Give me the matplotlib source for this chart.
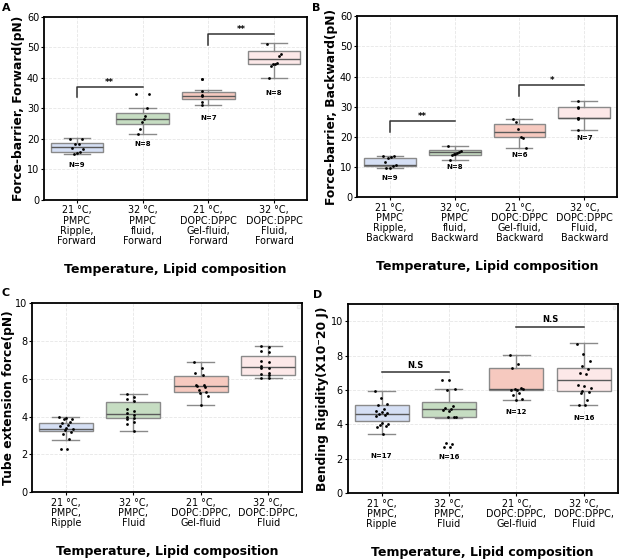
import numpy as np
import matplotlib
matplotlib.use("Agg")
import matplotlib.pyplot as plt

plt.rcParams['font.family'] = ['DejaVu Sans']

# ---------------- data ----------------
labels_ab_a = ["21 °C,\nPMPC\nRipple,\nForward", "32 °C,\nPMPC\nfluid,\nForward",
               "21 °C,\nDOPC:DPPC\nGel-fluid,\nForward", "32 °C,\nDOPC:DPPC\nFluid,\nForward"]
labels_ab_b = ["21 °C,\nPMPC\nRipple,\nBackward", "32 °C,\nPMPC\nfluid,\nBackward",
               "21 °C,\nDOPC:DPPC\nGel-fluid,\nBackward", "32 °C,\nDOPC:DPPC\nFluid,\nBackward"]
labels_cd = ["21 °C,\nPMPC,\nRipple", "32 °C,\nPMPC,\nFluid",
             "21 °C,\nDOPC:DPPC,\nGel-fluid", "32 °C,\nDOPC:DPPC,\nFluid"]

# Panel A: force barrier forward (pN)
a_points = [[20.0, 19.9, 18.4, 18.2, 17.0, 16.6, 15.6, 15.4, 14.9],
            [34.6, 34.6, 30.0, 27.6, 26.6, 25.6, 23.4, 21.6],
            [39.6, 39.6, 35.8, 34.3, 34.0, 32.0, 31.0],
            [51.2, 47.8, 47.3, 44.8, 44.5, 44.4, 43.9, 39.8]]
a_q1 = [15.8, 24.8, 33.0, 44.5]
a_med = [17.2, 26.4, 34.2, 46.3]
a_q3 = [18.5, 28.6, 35.2, 48.7]
a_wlo = [14.9, 21.7, 31.0, 39.8]
a_whi = [20.2, 30.1, 35.9, 51.3]
a_n = [9, 8, 7, 8]

# Panel B: force barrier backward (pN)
b_points = [[13.7, 13.6, 13.4, 12.9, 11.8, 10.5, 10.2, 9.8, 9.7],
            [16.8, 15.2, 14.9, 14.6, 14.4, 14.2, 14.0, 12.3],
            [26.0, 24.8, 22.6, 19.9, 19.7, 16.3],
            [31.8, 30.0, 29.7, 26.3, 26.1, 25.9, 22.2]]
b_q1 = [10.4, 14.0, 19.8, 26.1]
b_med = [10.8, 14.9, 21.5, 26.3]
b_q3 = [13.1, 15.7, 24.4, 29.9]
b_wlo = [9.7, 12.3, 16.4, 22.3]
b_whi = [13.8, 16.9, 26.0, 31.8]
b_n = [9, 8, 6, 7]

# Panel C: tube extension force (pN)
c_points = [[4.0, 3.95, 3.9, 3.85, 3.7, 3.65, 3.55, 3.5, 3.4, 3.35, 3.3, 3.2, 3.1, 2.8, 2.3, 2.3],
            [5.2, 5.05, 4.95, 4.85, 4.4, 4.3, 4.2, 4.1, 4.0, 3.95, 3.9, 3.7, 3.6, 3.25],
            [6.9, 6.55, 6.3, 6.2, 5.7, 5.65, 5.6, 5.55, 5.4, 5.3, 5.25, 5.1, 4.6],
            [7.75, 7.7, 7.45, 7.4, 6.95, 6.9, 6.7, 6.6, 6.55, 6.3, 6.25, 6.2, 6.05, 6.05]]
c_q1 = [3.24, 3.91, 5.30, 6.20]
c_med = [3.37, 4.16, 5.62, 6.64]
c_q3 = [3.67, 4.79, 6.17, 7.20]
c_wlo = [2.78, 3.24, 4.60, 6.03]
c_whi = [3.98, 5.20, 6.87, 7.75]

# Panel D: bending rigidity (x10^-20 J)
d_points = [[5.95, 5.55, 5.2, 5.15, 4.9, 4.75, 4.7, 4.65, 4.6, 4.55, 4.5, 4.1, 4.0, 3.95, 3.9, 3.85, 3.45],
            [6.55, 6.55, 6.05, 6.0, 5.05, 4.95, 4.9, 4.85, 4.8, 4.45, 4.4, 4.4, 2.9, 2.85, 2.7, 2.65],
            [8.05, 7.5, 7.25, 6.1, 6.05, 6.05, 6.0, 6.0, 5.85, 5.7, 5.5, 5.4],
            [8.7, 8.1, 7.7, 7.4, 7.2, 7.0, 6.9, 6.3, 6.2, 6.1, 5.95, 5.9, 5.8, 5.4, 5.15, 5.1]]
d_q1 = [4.19, 4.41, 5.98, 5.94]
d_med = [4.58, 4.91, 6.06, 6.60]
d_q3 = [5.15, 5.30, 7.28, 7.28]
d_wlo = [3.42, 4.37, 5.40, 5.13]
d_whi = [5.94, 6.06, 8.06, 8.72]
d_n = [17, 16, 12, 16]

# ---------------- style ----------------
box_colors = ['#d5dff4', '#c6ddc2', '#f6c9bf', '#fce8e8']
edge_col = '#8a8a8a'
tick_fs = 6.9
ytick_fs = 7.0
ylab_fs = 8.8
xlab_fs = 9.0

fig = plt.figure(figsize=(6.2, 5.6), dpi=100)

def make_panel(rect, pts, q1, med, q3, wlo, whi, ylim, yticks, xlabels, ylabel, letter, letter_pos,
               ylabelpad=1.5):
    ax = fig.add_axes(rect)
    stats = []
    for i in range(4):
        stats.append(dict(q1=q1[i], med=med[i], q3=q3[i], whislo=wlo[i], whishi=whi[i],
                          fliers=[], label=''))
    bp = ax.bxp(stats, positions=range(4), widths=0.8, patch_artist=True, showfliers=False,
                boxprops=dict(edgecolor=edge_col, linewidth=1.0),
                medianprops=dict(color='#5a5a5a', linewidth=1.0),
                whiskerprops=dict(color=edge_col, linewidth=1.0),
                capprops=dict(color=edge_col, linewidth=1.0), zorder=2)
    for patch, col in zip(bp['boxes'], box_colors):
        patch.set_facecolor(col)
    for i, vals in enumerate(pts):
        n = len(vals)
        offs = np.array([((k * 7) % n) / max(n - 1, 1) - 0.5 for k in range(n)]) * 0.2
        ax.scatter(i + offs, vals, s=4, color='black', zorder=4, linewidths=0)
    ax.set_xlim(-0.5, 3.5)
    ax.set_ylim(*ylim)
    ax.set_yticks(yticks)
    ax.set_xticks(range(4))
    ax.set_xticklabels(xlabels, fontsize=tick_fs, linespacing=1.03)
    ax.tick_params(axis='y', labelsize=ytick_fs, length=2, pad=1.5)
    ax.tick_params(axis='x', length=2, pad=2)
    ax.grid(True, color='#e6e6e6', linestyle='--', linewidth=0.6, zorder=0)
    ax.set_axisbelow(True)
    for sp in ax.spines.values():
        sp.set_color('black')
        sp.set_linewidth(1.3)
    ax.set_ylabel(ylabel, fontsize=ylab_fs, fontweight='bold', labelpad=ylabelpad)
    ax.set_xlabel('Temperature, Lipid composition', fontsize=xlab_fs, fontweight='bold', labelpad=12)
    fig.text(letter_pos[0], letter_pos[1], letter, fontsize=8, fontweight='bold', va='top', ha='left')
    return ax

def bracket(ax, x0, x1, ylo, yhi, txt, txty, leg=True):
    if leg:
        ax.plot([x0, x0, x1], [ylo, yhi, yhi], color='#333333', lw=1.1, zorder=5)
    else:
        ax.plot([x0, x1], [yhi, yhi], color='#333333', lw=1.1, zorder=5)
    ax.text((x0 + x1) / 2, txty, txt, ha='center', va='center', fontsize=6, fontweight='bold')

def nlabels(ax, ns, ys):
    for i, (n, y) in enumerate(zip(ns, ys)):
        ax.text(i, y, f'N={n}', ha='center', va='center', fontsize=5, fontweight='bold')

def tiny_legend(ax):
    ax.legend(handles=[], loc='upper right', frameon=True, framealpha=0.4,
              borderpad=0.25, fontsize=4, borderaxespad=0.4, fancybox=False)

# Panel A
axA = make_panel([0.071, 0.643, 0.424, 0.327], a_points, a_q1, a_med, a_q3, a_wlo, a_whi,
                 (0, 60), range(0, 61, 10), labels_ab_a, 'Force-barrier, Forward(pN)', 'A', (0.003, 0.995))
nlabels(axA, a_n, [11.5, 18.2, 26.9, 35.0])
bracket(axA, 0, 1, 33.6, 37.1, '**', 38.6)
bracket(axA, 2, 3, 50.9, 54.4, '**', 55.9)

# Panel B
axB = make_panel([0.576, 0.648, 0.419, 0.323], b_points, b_q1, b_med, b_q3, b_wlo, b_whi,
                 (0, 60), range(0, 61, 10), labels_ab_b, 'Force-barrier, Backward(pN)', 'B', (0.503, 0.995))
nlabels(axB, b_n, [6.4, 9.9, 13.9, 19.7])
bracket(axB, 0, 1, 21.7, 25.2, '**', 26.7)
bracket(axB, 2, 3, 33.6, 37.1, '*', 38.7)

# Panel C
axC = make_panel([0.052, 0.121, 0.435, 0.3375], c_points, c_q1, c_med, c_q3, c_wlo, c_whi,
                 (0, 10), range(0, 11, 2), labels_cd, 'Tube extension force(pN)', 'C', (0.003, 0.485),
                 ylabelpad=0.3)
tiny_legend(axC)

# Panel D
axD = make_panel([0.561, 0.1196, 0.435, 0.3375], d_points, d_q1, d_med, d_q3, d_wlo, d_whi,
                 (0, 11), range(0, 11, 2), labels_cd, 'Bending Rigidity(X10\u207b20 J)', 'D', (0.505, 0.483))
tiny_legend(axD)
nlabels(axD, d_n, [2.16, 2.12, 4.72, 4.39])
bracket(axD, 0, 1, None, 7.03, 'N.S', 7.45, leg=False)
bracket(axD, 2, 3, None, 9.67, 'N.S', 10.08, leg=False)

fig.savefig('out.png', dpi=100)
